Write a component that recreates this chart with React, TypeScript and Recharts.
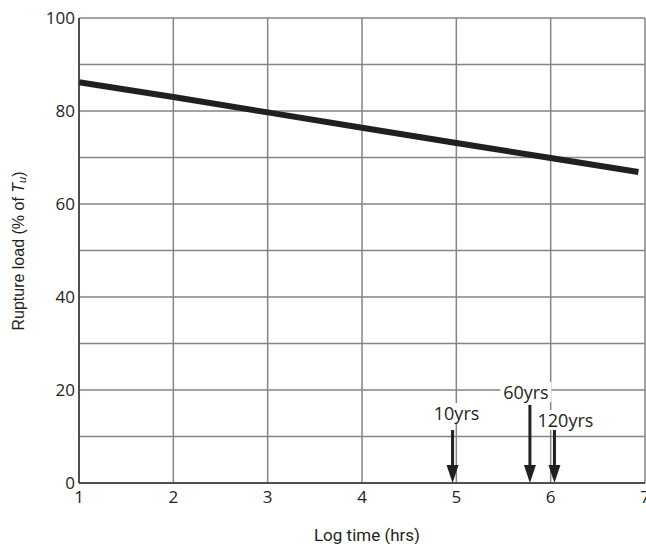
import React from "react";
import { LineChart, Line, XAxis, YAxis, CartesianGrid, ReferenceLine } from "recharts";

// log10(hours) vs rupture load (% of Tu)
const logTime = [1, 2, 3, 4, 5, 6, 6.93];
const ruptureLoad = [86.2, 83.0, 79.7, 76.4, 73.1, 69.9, 66.9];

const xTicks = [1, 2, 3, 4, 5, 6, 7];
const yGridTicks = [0, 10, 20, 30, 40, 50, 60, 70, 80, 90, 100];
const yTickLabels = [0, 20, 40, 60, 80, 100];

// design-life markers
const markerLabels = ["10yrs", "60yrs", "120yrs"];
const markerX = [4.96, 5.78, 6.04];
const markerTop = [11.4, 16.8, 11.4];

const data = logTime.map((t, i) => ({ t, load: ruptureLoad[i] }));

const INK = "#231f20";
const GRID = "#858585";

// label placement relative to the arrow top (px)
const labelShift: Record<string, [number, number]> = {
  "10yrs": [4, -17],
  "60yrs": [-4, -13],
  "120yrs": [11, -10],
};

function Arrow(props: any) {
  const { x1, y1, x2, y2, text } = props;
  const top = Math.min(y1, y2);
  const bottom = Math.max(y1, y2);
  const x = x1;
  const [dx, dy] = labelShift[text] || [0, -14];
  const w = text.length * 9.8 + 2;
  return (
    <g>
      <line x1={x} y1={top} x2={x} y2={bottom - 14} stroke={INK} strokeWidth={3} />
      <polygon points={`${x - 6},${bottom - 18} ${x + 6},${bottom - 18} ${x},${bottom}`} fill={INK} />
      <rect x={x + dx - w / 2} y={top + dy - 10} width={w} height={20} fill="#fff" />
      <text
        x={x + dx}
        y={top + dy}
        textAnchor="middle"
        dominantBaseline="central"
        fontSize={18}
        fontFamily="'Open Sans', sans-serif"
        fill={INK}
      >
        {text}
      </text>
    </g>
  );
}

function YLabel() {
  return (
    <text
      x={18}
      y={251}
      transform="rotate(-90 18 251)"
      textAnchor="middle"
      dominantBaseline="central"
      fontSize={16}
      fontFamily="'Liberation Sans', Arial, sans-serif"
      fill={INK}
    >
      Rupture load (% of <tspan fontStyle="italic">T</tspan>
      <tspan fontStyle="italic" fontSize={11} dy={4}>u</tspan>
      <tspan dy={-4}>)</tspan>
    </text>
  );
}

function XLabel() {
  return (
    <text
      x={367}
      y={535}
      textAnchor="middle"
      dominantBaseline="central"
      fontSize={17}
      fontFamily="Roboto, sans-serif"
      fill={INK}
    >
      Log time (hrs)
    </text>
  );
}

export default function App() {
  const tickStyle = { fontSize: 17, fontFamily: "'Open Sans', sans-serif", fill: INK };
  return (
    <div style={{ position: "absolute", left: 0, top: 0, width: 646, height: 544, background: "#fff" }}>
      <LineChart width={646} height={544} data={data} margin={{ top: 18, right: 1, bottom: 0, left: 0 }}>
        <CartesianGrid stroke={GRID} strokeWidth={1.5} />
        <XAxis
          dataKey="t"
          type="number"
          domain={[1, 7]}
          ticks={xTicks}
          interval={0}
          height={61}
          tickLine={false}
          tickSize={0}
          tickMargin={8}
          axisLine={{ stroke: "#333", strokeWidth: 1.5 }}
          tick={tickStyle}
          label={<XLabel />}
        />
        <YAxis
          type="number"
          domain={[0, 100]}
          ticks={yGridTicks}
          interval={0}
          width={79}
          tickLine={false}
          tickSize={0}
          tickMargin={4}
          axisLine={{ stroke: "#333", strokeWidth: 1.5 }}
          tick={tickStyle}
          tickFormatter={(v: number) => (yTickLabels.includes(v) ? String(v) : "")}
          label={<YLabel />}
        />
        <Line
          dataKey="load"
          stroke={INK}
          strokeWidth={6}
          dot={false}
          isAnimationActive={false}
        />
        {markerLabels.map((name, i) => (
          <ReferenceLine
            key={name}
            segment={[
              { x: markerX[i], y: markerTop[i] },
              { x: markerX[i], y: 0 },
            ]}
            stroke={INK}
            shape={(p: any) => <Arrow {...p} text={name} />}
          />
        ))}
      </LineChart>
    </div>
  );
}
